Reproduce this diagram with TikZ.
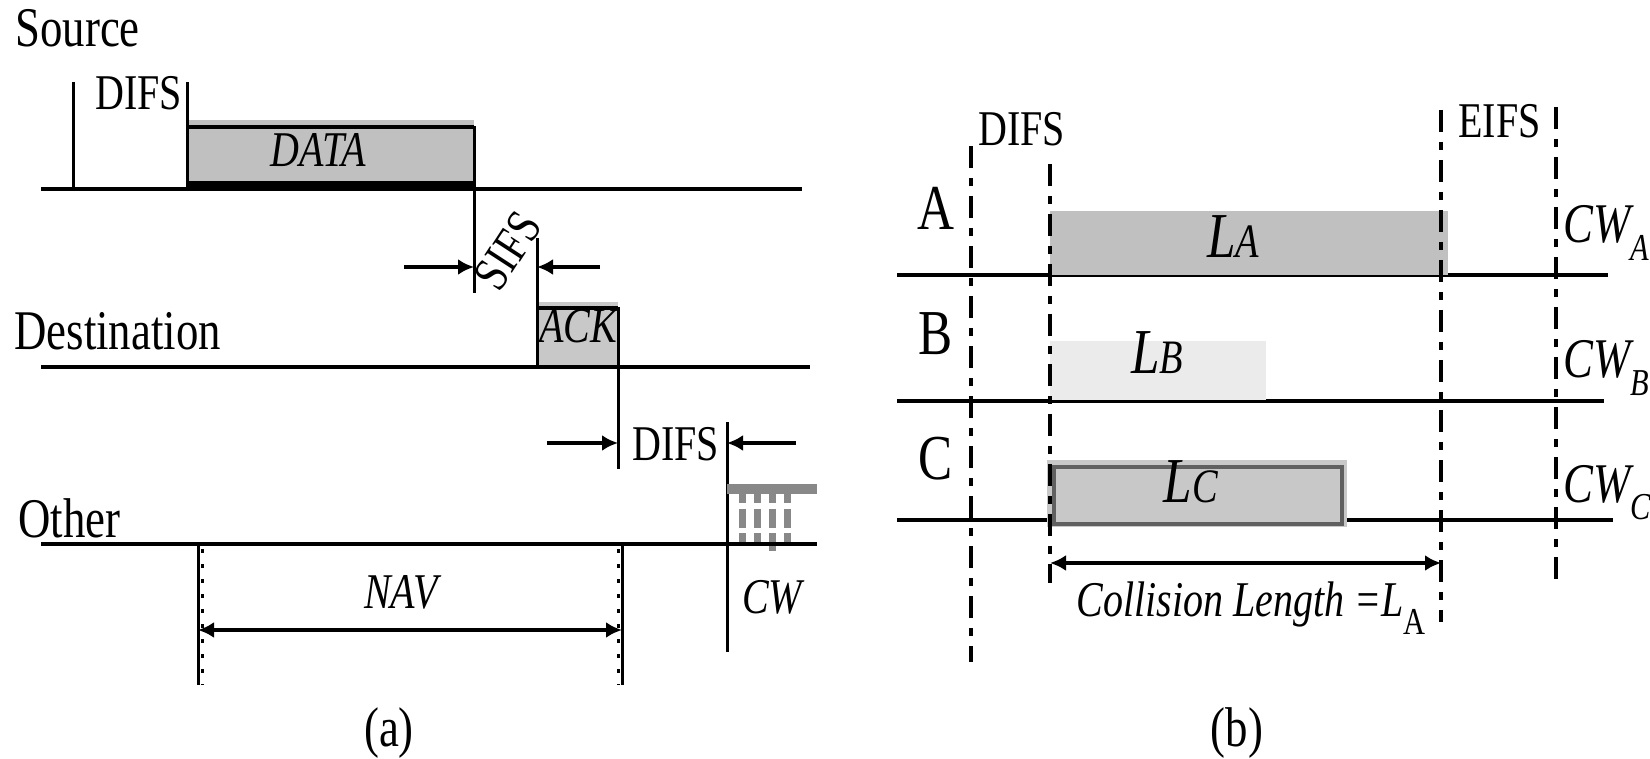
\documentclass[tikz,border=0pt]{standalone}
\usepackage{fontspec}
\setmainfont{Liberation Serif}[FakeStretch=0.8]
\usetikzlibrary{arrows.meta,calc,positioning}
\definecolor{tdInk}{HTML}{000000}
\definecolor{tdFill}{HTML}{C0C0C0}
\definecolor{tdAck}{HTML}{C8C8C8}
\definecolor{tdPale}{HTML}{EBEBEB}
\definecolor{tdMid}{HTML}{888888}
\definecolor{tdEdge}{HTML}{606060}
\newcommand{\tdSmall}{\fontsize{25}{30}\selectfont}
\newcommand{\tdMed}{\fontsize{28}{33}\selectfont}
\newcommand{\tdBig}{\fontsize{32}{38}\selectfont}
\newcommand{\tdLow}[1]{\raisebox{-9pt}{\fontsize{19}{22}\selectfont #1}}
\newcommand{\tdSc}[1]{{\fontsize{24}{28}\selectfont #1}}
\tikzset{
 timing/.style={line cap=butt,text=tdInk},
 axis/.style={draw=tdInk,line width=2pt},
 tickline/.style={draw=tdInk,line width=1.5pt},
 navtick/.style={draw=tdInk,line width=1.5pt,dash pattern=on 2pt off 5.5pt},
 slotline/.style={draw=tdInk,line width=1.6pt,dash pattern=on 11pt off 5pt on 4pt off 5pt},
 hatch/.style={draw=tdMid,line width=3.5pt,dash pattern=on 9.5pt off 2.75pt,dash phase=5pt},
 span/.style={draw=tdInk,line width=2pt,-{Latex[length=8pt,width=8pt]}},
 bispan/.style={draw=tdInk,line width=2pt,{Latex[length=8pt,width=8pt]}-{Latex[length=8pt,width=8pt]}},
 lbl/.style={inner sep=0pt,font=\tdSmall,anchor=base west},
 ilbl/.style={inner sep=0pt,font=\tdSmall\itshape,anchor=base},
 station/.style={inner sep=0pt,font=\tdMed,anchor=base west},
 slotname/.style={inner sep=0pt,font=\tdBig,anchor=base},
 cwname/.style={inner sep=0pt,font=\tdMed\itshape,anchor=base west},
 subcap/.style={inner sep=0pt,font=\tdMed}
}

\begin{document}
\begin{tikzpicture}[timing,x=.5pt,y=-.5pt]
 \useasboundingbox (0,0) rectangle (1650,759);
 % (a) source
 \fill[tdFill] (187,120) rectangle (474,189);
 \draw[axis] (187,127) -- (474,127);
 \draw[tdInk,line width=4.5pt] (187,186) -- (474,186);
 \draw[axis] (41,189) -- (802,189);
 \draw[tickline] (73,82) -- (73,189);
 \draw[tickline] (187,82) -- (187,189);
 \draw[tickline] (474,126) -- (474,293);
 \node[station] (src) at (15,47) {Source};
 \node[lbl] (difsA) at (95,110) {DIFS};
 \node[ilbl] (data) at (318,167) {DATA};
 % sifs
 \coordinate (sifsL) at (404,267); \coordinate (sifsA) at (474,267);
 \coordinate (sifsR) at (600,267); \coordinate (sifsB) at (537,267);
 \draw[span] (sifsL) -- (sifsA);
 \draw[span] (sifsR) -- (sifsB);
 \node[inner sep=0pt,font=\tdSmall,rotate=57] (sifs) at (508,251) {SIFS};
 % destination
 \fill[tdAck] (537,302) rectangle (618,367);
 \draw[axis] (537,308) -- (618,308);
 \draw[axis] (41,367) -- (810,367);
 \draw[tickline] (537,238) -- (537,367);
 \draw[tickline] (618,307) -- (618,469);
 \node[station] (dst) at (14,350) {Destination};
 \node[ilbl] (ack) at (578,343) {ACK};
 % other
 \coordinate (difsL) at (547,443); \coordinate (difsA) at (618,443);
 \coordinate (difsR) at (796,443); \coordinate (difsB) at (727,443);
 \draw[span] (difsL) -- (difsA);
 \draw[span] (difsR) -- (difsB);
 \node[lbl] (difsO) at (632,460) {DIFS};
 \draw[tickline] (727,422) -- (727,652);
 \fill[tdMid] (727,484) rectangle (817,494);
 \foreach \x/\y in {742/542,757/542,772/551,787/542}{\draw[hatch] (\x,494) -- (\x,\y);}
 \draw[axis] (41,544) -- (817,544);
 \node[station] (oth) at (18,537) {Other};
 \node[ilbl] (cw) at (772,613) {CW};
 % nav
 \coordinate (navL) at (198,545); \coordinate (navR) at (622,545);
 \draw[tickline] (navL) -- ++(0,140);
 \draw[tickline] (navR) -- ++(0,140);
 \draw[navtick] ($(navL)+(4,4)$) -- ++(0,136);
 \draw[navtick] ($(navR)+(-4,4)$) -- ++(0,136);
 \draw[bispan] ($(navL)+(0,85)$) -- ($(navR)+(0,85)$);
 \node[ilbl] (nav) at (401,608) {NAV};
 \node[subcap] (capA) at (389,733) {(a)};
 % (b) stations
 \draw[axis] (897,275) -- (1608,275);
 \draw[axis] (897,401) -- (1604,401);
 \draw[axis] (897,520) -- (1613,520);
 \fill[tdFill] (1050,211) rectangle (1448,275);
 \fill[tdPale] (1050,341) rectangle (1266,400);
 \fill[tdAck] (1047,460) rectangle (1347,527);
 \draw[tdEdge,line width=2pt] (1054,467) rectangle (1342,524);
 \draw[slotline] (971,146) -- (971,662);
 \draw[slotline] (1050,164) -- (1050,583);
 \draw[slotline] (1441,110) -- (1441,622);
 \draw[slotline] (1556,107) -- (1556,583);
 \node[lbl] (difsB1) at (978,146) {DIFS};
 \node[lbl] (eifs) at (1458,138) {EIFS};
 \node[slotname] (stA) at (936,230) {A};
 \node[slotname] (stB) at (936,355) {B};
 \node[slotname] (stC) at (936,480) {C};
 \node[slotname,font=\tdBig\itshape] (lenA) at (1233,258) {L\tdSc{A}};
 \node[slotname,font=\tdBig\itshape] (lenB) at (1157,373) {L\tdSc{B}};
 \node[slotname,font=\tdBig\itshape] (lenC) at (1191,502) {L\tdSc{C}};
 \node[cwname] (cwA) at (1563,243) {CW\tdLow{A}};
 \node[cwname] (cwB) at (1563,378) {CW\tdLow{B}};
 \node[cwname] (cwC) at (1563,502) {CW\tdLow{C}};
 % collision
 \coordinate (colL) at (1050,563); \coordinate (colR) at (1441,563);
 \draw[bispan] (colL) -- (colR);
 \node[lbl,font=\tdSmall\itshape] (coll) at (1076,616) {Collision Length =L\tdLow{\upshape A}};
 \node[subcap] (capB) at (1237,733) {(b)};
\end{tikzpicture}
\end{document}
